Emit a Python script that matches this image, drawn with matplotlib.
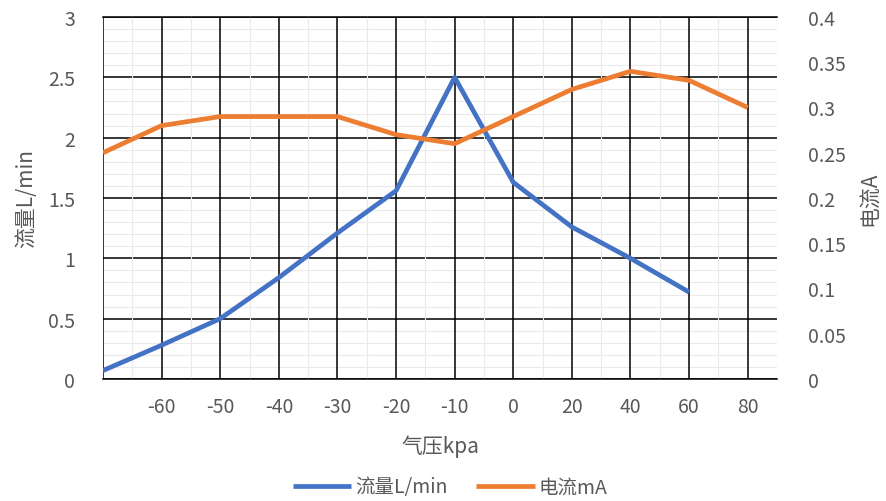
import matplotlib.pyplot as plt

plt.rcParams['font.family'] = ['Noto Sans CJK SC', 'DejaVu Sans']

# 气压类别 (第一个类别没有标签)
pressure = ['', '-60', '-50', '-40', '-30', '-20', '-10', '0', '20', '40', '60', '80']
flow = [0.07, 0.28, 0.50, 0.84, 1.21, 1.56, 2.50, 1.63, 1.26, 1.00, 0.72]
current = [0.25, 0.28, 0.29, 0.29, 0.29, 0.27, 0.26, 0.29, 0.32, 0.34, 0.33, 0.30]
left_ticks = [0, 0.5, 1, 1.5, 2, 2.5, 3]
left_labels = ['0', '0.5', '1', '1.5', '2', '2.5', '3']
right_ticks = [0, 0.05, 0.1, 0.15, 0.2, 0.25, 0.3, 0.35, 0.4]
right_labels = ['0', '0.05', '0.1', '0.15', '0.2', '0.25', '0.3', '0.35', '0.4']

gray = '#595959'
fig = plt.figure(figsize=(8.87, 5.02), dpi=100)
ax = fig.add_axes([103/887, 1-380/502, 674/887, 362/502])
ax2 = ax.twinx()

x = list(range(len(pressure)))
ax.plot(x[:len(flow)], flow, color='#4472C4', lw=3.4, solid_capstyle='butt', label='流量L/min')
ax2.plot(x, current, color='#ED7D31', lw=3.4, solid_capstyle='butt', label='电流mA')

ax.set_xticks(x)
ax.set_xticklabels(pressure)
ax.set_xticks([i + 0.5 for i in x], minor=True)
ax.set_yticks(left_ticks)
ax.set_yticklabels(left_labels)
ax.set_yticks([i / 10 for i in range(31)], minor=True)
ax2.set_yticks(right_ticks)
ax2.set_yticklabels(right_labels)
ax.set_xlim(0, 11.5)
ax.set_ylim(0, 3)
ax2.set_ylim(0, 0.4)

ax.grid(which='minor', color='#EAEAEA', lw=0.8)
ax.grid(which='major', color='black', lw=1.1)
ax.set_axisbelow(True)
# 横向网格线画在纵向网格线下面
ax.yaxis.set_zorder(0.4)
ax.xaxis.set_zorder(0.5)

for a in (ax, ax2):
    a.tick_params(which='both', length=0, labelsize=14, labelcolor=gray)
    for s in a.spines.values():
        s.set_visible(False)
ax.tick_params(axis='y', pad=20)
ax.tick_params(axis='x', pad=12)
ax2.tick_params(axis='y', pad=22)
for side in ('bottom', 'top'):
    ax.spines[side].set_visible(True)
    ax.spines[side].set_color('black')
    ax.spines[side].set_linewidth(1.1)

ax.set_ylabel('流量L/min', fontsize=15, color=gray, labelpad=8)
ax2.set_ylabel('电流A', fontsize=15, color=gray, labelpad=10)
fig.text(440/887, 1-447/502, '气压kpa', fontsize=15, color=gray, ha='center', va='center')

h1, l1 = ax.get_legend_handles_labels()
h2, l2 = ax2.get_legend_handles_labels()
fig.legend(h1 + h2, l1 + l2, loc='center', bbox_to_anchor=(450/887, 1-488/502), ncol=2,
           frameon=False, fontsize=14, labelcolor=gray, handlelength=3, handletextpad=0.2,
           columnspacing=1.5)

fig.savefig('out.png', dpi=100)
